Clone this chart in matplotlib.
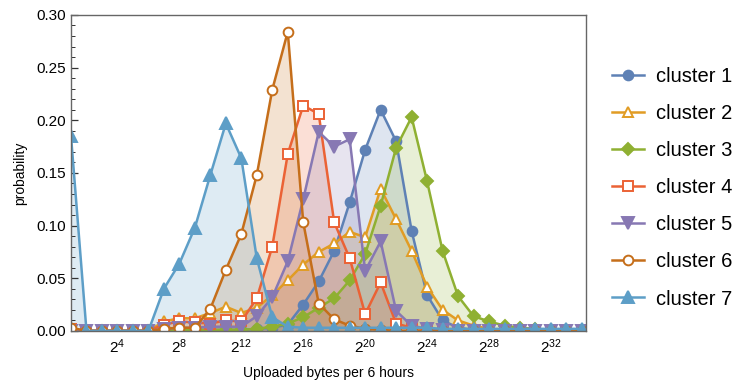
import numpy as np
import matplotlib
matplotlib.use("Agg")
import matplotlib.pyplot as plt
from matplotlib.ticker import FixedLocator, MultipleLocator, FormatStrFormatter

plt.rcParams['font.family'] = ['Liberation Sans', 'DejaVu Sans']
plt.rcParams['mathtext.fontset'] = 'custom'
plt.rcParams['mathtext.rm'] = 'Liberation Sans'
plt.rcParams['mathtext.it'] = 'Liberation Sans'

# exponent of 2 for each bin
exponents = np.arange(1, 35)

cluster_1 = [0, 0, 0, 0, 0, 0, 0.001, 0.001, 0.001, 0.001, 0.001, 0.001, 0.002, 0.003,
             0.006, 0.025, 0.047, 0.076, 0.122, 0.172, 0.210, 0.180, 0.095, 0.034,
             0.010, 0.003, 0.001, 0, 0, 0, 0, 0, 0, 0]
cluster_2 = [0, 0, 0, 0, 0, 0, 0.009, 0.012, 0.012, 0.017, 0.023, 0.017, 0.022, 0.034,
             0.048, 0.063, 0.075, 0.083, 0.094, 0.089, 0.135, 0.106, 0.076, 0.042,
             0.020, 0.010, 0.005, 0.002, 0.001, 0, 0, 0, 0, 0]
cluster_3 = [0, 0, 0, 0, 0, 0, 0.001, 0.001, 0.001, 0.001, 0.001, 0.001, 0.002, 0.004,
             0.007, 0.013, 0.022, 0.031, 0.048, 0.073, 0.119, 0.174, 0.203, 0.142,
             0.076, 0.033, 0.014, 0.009, 0.005, 0.003, 0.002, 0.001, 0.001, 0]
cluster_4 = [0.002, 0, 0, 0, 0, 0, 0.006, 0.009, 0.008, 0.007, 0.010, 0.009, 0.031, 0.080,
             0.168, 0.214, 0.206, 0.103, 0.069, 0.016, 0.046, 0.007, 0.003, 0.002,
             0.001, 0, 0, 0, 0, 0, 0, 0, 0, 0]
cluster_5 = [0, 0, 0, 0, 0, 0, 0.002, 0.003, 0.003, 0.004, 0.004, 0.004, 0.014, 0.032,
             0.066, 0.125, 0.189, 0.175, 0.182, 0.057, 0.085, 0.019, 0.005, 0.002,
             0.001, 0, 0, 0, 0, 0, 0, 0, 0, 0]
cluster_6 = [0.003, 0, 0, 0, 0, 0, 0.002, 0.003, 0.003, 0.021, 0.058, 0.092, 0.148, 0.229,
             0.284, 0.103, 0.026, 0.011, 0.005, 0.002, 0.001, 0, 0, 0,
             0, 0, 0, 0, 0, 0, 0, 0, 0, 0]
cluster_7 = [0.185, 0, 0, 0, 0, 0, 0.040, 0.064, 0.098, 0.148, 0.197, 0.164, 0.069, 0.013,
             0.004, 0.003, 0.003, 0.003, 0.003, 0.003, 0.003, 0.003, 0.003, 0.003,
             0.002, 0.002, 0.002, 0.002, 0.002, 0.002, 0.002, 0.002, 0.002, 0.002]

series = [cluster_1, cluster_2, cluster_3, cluster_4, cluster_5, cluster_6, cluster_7]
labels = ["cluster 1", "cluster 2", "cluster 3", "cluster 4",
          "cluster 5", "cluster 6", "cluster 7"]

colors = ["#5E81B5", "#E19C24", "#8FB032", "#EB6235", "#8778B3", "#C56E1A", "#5D9EC7"]
markers = ["o", "^", "D", "s", "v", "o", "^"]
hollow = [False, True, False, True, False, True, False]
msizes = [7, 7, 6.5, 6.5, 8, 7, 8.5]

fig = plt.figure(figsize=(7.35, 3.83), dpi=100)
ax = fig.add_axes([0.0966, 0.136, 0.7004, 0.825])

x = 2.0 ** exponents
for i, y in enumerate(series):
    c = colors[i]
    ax.fill_between(x, 0, y, color=c, alpha=0.2, linewidth=0)
    face = "white" if hollow[i] else c
    ax.plot(x, y, color=c, lw=1.8, marker=markers[i], ms=msizes[i],
            mfc=face, mec=c, mew=1.4, label=labels[i])

ax.set_xscale("log", base=2)
ax.set_xlim(2.0 ** 1, 2.0 ** 34.25)
ax.set_ylim(0, 0.30)

xt = [2.0 ** k for k in range(4, 33, 4)]
ax.xaxis.set_major_locator(FixedLocator(xt))
ax.xaxis.set_minor_locator(FixedLocator([]))
ax.set_xticklabels([r"$2^{%d}$" % k for k in range(4, 33, 4)])
ax.yaxis.set_major_locator(MultipleLocator(0.05))
ax.yaxis.set_minor_locator(MultipleLocator(0.01))
ax.yaxis.set_major_formatter(FormatStrFormatter("%.2f"))

ax.tick_params(axis="both", which="both", direction="in", labelsize=11, color="#333333")
ax.tick_params(axis="both", which="major", length=5, width=0.9)
ax.tick_params(axis="y", which="minor", length=3, width=0.7)
ax.tick_params(axis="x", pad=5)
for s in ax.spines.values():
    s.set_color("#666666")
    s.set_linewidth(1.0)

ax.set_xlabel("Uploaded bytes per 6 hours", fontsize=10, labelpad=7)
ax.set_ylabel("probability", fontsize=10, labelpad=7)

fig.legend(loc="center left", bbox_to_anchor=(0.822, 0.51), frameon=False,
           fontsize=14.5, handlelength=1.6, labelspacing=0.9, handletextpad=0.55,
           borderaxespad=0)

fig.savefig("out.png", dpi=100)
